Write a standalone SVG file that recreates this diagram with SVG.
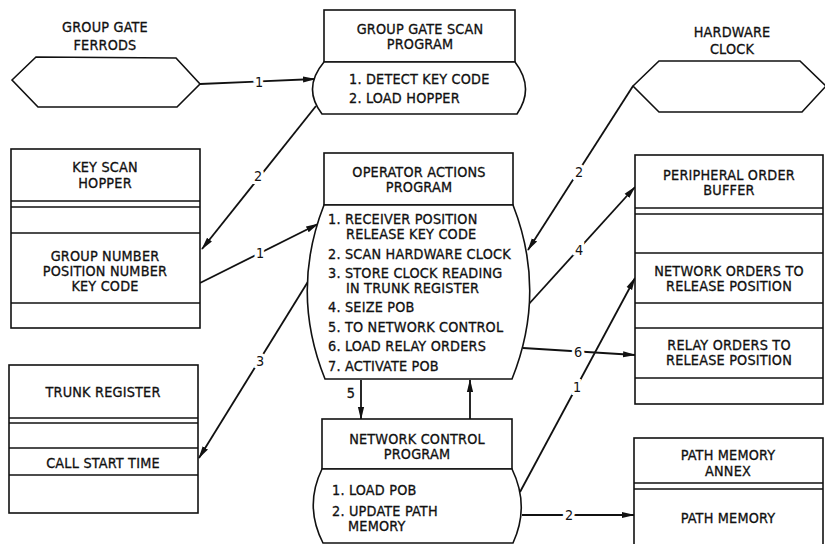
<svg xmlns="http://www.w3.org/2000/svg" width="825" height="544" viewBox="0 0 825 544">
<defs>
<marker id="ah" markerWidth="13" markerHeight="8" refX="12" refY="4" orient="auto" markerUnits="userSpaceOnUse">
<path d="M0,0.9 L13,4 L0,7.1 Z" fill="#111"/>
</marker>
<style>
.box{fill:#fff;stroke:#111;stroke-width:1.6}
.ln{stroke:#111;stroke-width:1.6;fill:none}
.t{font-family:"DejaVu Sans Condensed","DejaVu Sans",sans-serif;font-stretch:condensed;font-size:14.3px;letter-spacing:0.2px;fill:#111;stroke:#111;stroke-width:0.3;text-anchor:middle}
.l{text-anchor:start}
.c{stroke:#111;stroke-width:1.8;fill:none;marker-end:url(#ah)}
.n{font-family:"DejaVu Sans Condensed","DejaVu Sans",sans-serif;font-stretch:condensed;font-size:14.3px;fill:#111;text-anchor:middle;stroke:#fff;stroke-width:6;paint-order:stroke}
</style>
</defs>
<rect width="825" height="544" fill="#fff"/>

<g id="connectors">
<line class="c" x1="200" y1="84" x2="315" y2="79"/>
<text class="n" x="259" y="87">1</text>
<line class="c" x1="316" y1="106" x2="202" y2="249"/>
<text class="n" x="258" y="181">2</text>
<line class="c" x1="200" y1="283" x2="318" y2="224"/>
<text class="n" x="260" y="258">1</text>
<line class="c" x1="309" y1="280" x2="199" y2="458"/>
<text class="n" x="260" y="366">3</text>
<line class="c" x1="361" y1="380" x2="361" y2="419"/>
<text class="t" x="351" y="398">5</text>
<line class="c" x1="470" y1="419" x2="470" y2="380"/>
<line class="c" x1="633" y1="86" x2="528" y2="250"/>
<text class="n" x="579" y="177">2</text>
<line class="c" x1="528" y1="305" x2="635" y2="187"/>
<text class="n" x="579" y="255">4</text>
<line class="c" x1="523" y1="348" x2="635" y2="355"/>
<text class="n" x="578" y="357">6</text>
<line class="c" x1="520" y1="492" x2="635" y2="278"/>
<text class="n" x="577" y="392">1</text>
<line class="c" x1="522" y1="515" x2="634" y2="515"/>
<text class="n" x="569" y="520">2</text>
</g>

<g id="group-gate-ferrods">
<polygon class="box" points="12,80 36,57 176,58 200,84 177,107 38,107"/>
<text class="t" x="105" y="32">GROUP GATE</text>
<text class="t" x="105" y="50">FERRODS</text>
</g>

<g id="group-gate-scan-program">
<rect class="box" x="324" y="10" width="191" height="52"/>
<path class="box" d="M324,62 L515,62 Q535,88 517,114 L322,114 Q302,88 324,62 Z"/>
<text class="t" x="420" y="34">GROUP GATE SCAN</text>
<text class="t" x="420" y="49">PROGRAM</text>
<text class="t l" x="349" y="84">1. DETECT KEY CODE</text>
<text class="t l" x="349" y="103">2. LOAD HOPPER</text>
</g>

<g id="hardware-clock">
<polygon class="box" points="633,86 659,61 800,61 826,86 802,112 659,112"/>
<text class="t" x="732" y="37">HARDWARE</text>
<text class="t" x="732" y="54">CLOCK</text>
</g>

<g id="key-scan-hopper">
<rect class="box" x="11" y="149" width="189" height="179"/>
<line class="ln" x1="11" y1="201" x2="200" y2="201"/>
<line class="ln" x1="11" y1="207" x2="200" y2="207"/>
<line class="ln" x1="11" y1="233" x2="200" y2="233"/>
<line class="ln" x1="11" y1="303" x2="200" y2="303"/>
<text class="t" x="105" y="172">KEY SCAN</text>
<text class="t" x="105" y="188">HOPPER</text>
<text class="t" x="105" y="261">GROUP NUMBER</text>
<text class="t" x="105" y="276">POSITION NUMBER</text>
<text class="t" x="105" y="291">KEY CODE</text>
</g>

<g id="operator-actions-program">
<rect class="box" x="324" y="153" width="189" height="52"/>
<path class="box" d="M324,205 L513,205 Q547,292 512,379 L325,379 Q290,292 324,205 Z"/>
<text class="t" x="419" y="177">OPERATOR ACTIONS</text>
<text class="t" x="419" y="192">PROGRAM</text>
<text class="t l" x="328" y="224">1. RECEIVER POSITION</text>
<text class="t l" x="346" y="239">RELEASE KEY CODE</text>
<text class="t l" x="328" y="259">2. SCAN HARDWARE CLOCK</text>
<text class="t l" x="328" y="278">3. STORE CLOCK READING</text>
<text class="t l" x="346" y="293">IN TRUNK REGISTER</text>
<text class="t l" x="328" y="312">4. SEIZE POB</text>
<text class="t l" x="328" y="332">5. TO NETWORK CONTROL</text>
<text class="t l" x="328" y="351">6. LOAD RELAY ORDERS</text>
<text class="t l" x="328" y="371">7. ACTIVATE POB</text>
</g>

<g id="trunk-register">
<rect class="box" x="9" y="365" width="189" height="148"/>
<line class="ln" x1="9" y1="418" x2="198" y2="418"/>
<line class="ln" x1="9" y1="423" x2="198" y2="423"/>
<line class="ln" x1="9" y1="448" x2="198" y2="448"/>
<line class="ln" x1="9" y1="475" x2="198" y2="475"/>
<text class="t" x="103" y="397">TRUNK REGISTER</text>
<text class="t" x="103" y="468">CALL START TIME</text>
</g>

<g id="network-control-program">
<rect class="box" x="322" y="419" width="190" height="50"/>
<path class="box" d="M322,469 L512,469 Q530,506 513,543 L323,543 Q304,506 322,469 Z"/>
<text class="t" x="417" y="444">NETWORK CONTROL</text>
<text class="t" x="417" y="459">PROGRAM</text>
<text class="t l" x="332" y="495">1. LOAD POB</text>
<text class="t l" x="332" y="516">2. UPDATE PATH</text>
<text class="t l" x="348" y="531">MEMORY</text>
</g>

<g id="peripheral-order-buffer">
<rect class="box" x="635" y="155" width="188" height="249"/>
<line class="ln" x1="635" y1="208" x2="823" y2="208"/>
<line class="ln" x1="635" y1="214" x2="823" y2="214"/>
<line class="ln" x1="635" y1="253" x2="823" y2="253"/>
<line class="ln" x1="635" y1="303" x2="823" y2="303"/>
<line class="ln" x1="635" y1="328" x2="823" y2="328"/>
<line class="ln" x1="635" y1="378" x2="823" y2="378"/>
<text class="t" x="729" y="180">PERIPHERAL ORDER</text>
<text class="t" x="729" y="195">BUFFER</text>
<text class="t" x="729" y="276">NETWORK ORDERS TO</text>
<text class="t" x="729" y="291">RELEASE POSITION</text>
<text class="t" x="729" y="350">RELAY ORDERS TO</text>
<text class="t" x="729" y="365">RELEASE POSITION</text>
</g>

<g id="path-memory-annex">
<rect class="box" x="634" y="438" width="189" height="120"/>
<line class="ln" x1="634" y1="483" x2="823" y2="483"/>
<line class="ln" x1="634" y1="489" x2="823" y2="489"/>
<text class="t" x="728" y="460">PATH MEMORY</text>
<text class="t" x="728" y="476">ANNEX</text>
<text class="t" x="728" y="523">PATH MEMORY</text>
</g>
</svg>
